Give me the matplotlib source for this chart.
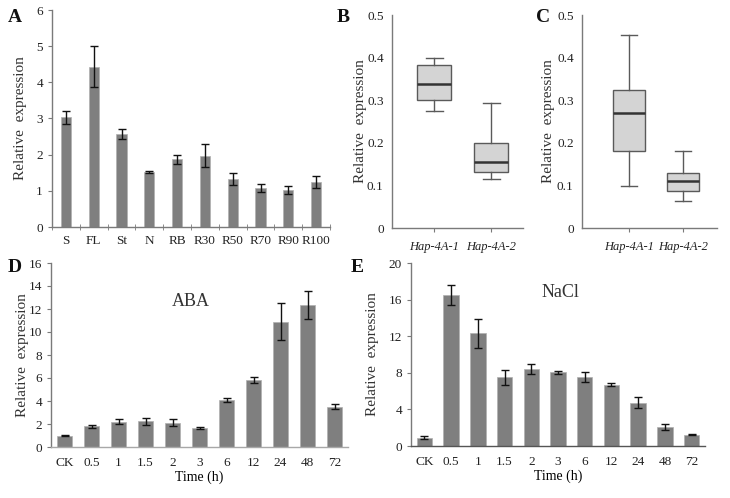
import matplotlib
matplotlib.use("Agg")
import matplotlib.pyplot as plt
from matplotlib.ticker import FuncFormatter

plt.rcParams['font.family'] = ['Liberation Serif', 'DejaVu Serif']

# panel A - tissues
tissues = ["S", "FL", "St", "N", "RB", "R30", "R50", "R70", "R90", "R100"]
tissue_expr = [3.03, 4.43, 2.57, 1.52, 1.87, 1.97, 1.33, 1.08, 1.01, 1.25]
tissue_err = [0.18, 0.57, 0.15, 0.02, 0.13, 0.32, 0.16, 0.11, 0.11, 0.16]

# panels B and C - box stats (whislo, q1, med, q3, whishi)
genes = ["Hap-4A-1", "Hap-4A-2"]
box_b = [[0.275, 0.300, 0.337, 0.382, 0.400],
         [0.115, 0.132, 0.155, 0.200, 0.294]]
box_c = [[0.098, 0.181, 0.270, 0.325, 0.452],
         [0.063, 0.088, 0.110, 0.128, 0.181]]

# panels D and E - time course
times = ["CK", "0.5", "1", "1.5", "2", "3", "6", "12", "24", "48", "72"]
aba_expr = [1.0, 1.8, 2.2, 2.25, 2.1, 1.65, 4.1, 5.8, 10.9, 12.35, 3.5]
aba_err = [0.05, 0.15, 0.2, 0.3, 0.3, 0.05, 0.2, 0.25, 1.6, 1.25, 0.2]
nacl_expr = [0.9, 16.5, 12.3, 7.5, 8.45, 8.05, 7.5, 6.7, 4.75, 2.1, 1.25]
nacl_err = [0.15, 1.1, 1.6, 0.8, 0.55, 0.2, 0.55, 0.15, 0.6, 0.35, 0.1]

W, H = 730, 498
BAR = "#7f7f7f"
SPINE = "#7a7a7a"

fig = plt.figure(figsize=(W / 100, H / 100), dpi=100)


def add_ax(left, right, top, bottom):
    ax = fig.add_axes([left / W, (H - bottom) / H, (right - left) / W, (bottom - top) / H])
    for s in ["top", "right"]:
        ax.spines[s].set_visible(False)
    for s in ["left", "bottom"]:
        ax.spines[s].set_color(SPINE)
        ax.spines[s].set_linewidth(1.0)
    ax.tick_params(colors=SPINE, labelcolor="#222222", labelsize=9.5, length=3)
    return ax


def num_fmt(v, pos):
    if abs(v) < 1e-9:
        return "0"
    return ("%g" % round(v, 3))


def bar_panel(ax, cats, vals, errs, width, ymax, step):
    x = list(range(len(cats)))
    ax.bar(x, vals, width=width, color=BAR, edgecolor="#b0b0b0", linewidth=0.5, zorder=2)
    ax.errorbar(x, vals, yerr=errs, fmt="none", ecolor="#111111", elinewidth=1.0,
                capsize=3, capthick=1.0, zorder=3)
    ax.set_xlim(-0.5, len(cats) - 0.5)
    ax.set_ylim(0, ymax)
    ax.set_yticks(range(0, ymax + 1, step))
    ax.yaxis.set_major_formatter(FuncFormatter(num_fmt))
    ax.set_xticks(x)
    ax.set_xticklabels(cats)
    ax.set_ylabel("Relative  expression", fontsize=11, color="#333333")


# A
axA = add_ax(52, 330, 10, 227)
bar_panel(axA, tissues, tissue_expr, tissue_err, 0.37, 6, 1)
axA.set_xticks([i - 0.5 for i in range(len(tissues) + 1)], minor=True)
axA.tick_params(axis="x", which="major", length=0, pad=6)
axA.tick_params(axis="x", which="minor", length=4, direction="inout", colors=SPINE)
axA.yaxis.set_label_coords(-0.09, 0.5)


def box_panel(ax, stats, xlim):
    data = []
    for g, s in zip(genes, stats):
        data.append({"label": g, "whislo": s[0], "q1": s[1], "med": s[2],
                     "q3": s[3], "whishi": s[4], "fliers": []})
    ax.bxp(data, positions=[1, 2], widths=0.6, patch_artist=True, showfliers=False,
           capwidths=0.3,
           boxprops=dict(facecolor="#d4d4d4", edgecolor="#5a5a5a", linewidth=1.0),
           medianprops=dict(color="#333333", linewidth=1.8),
           whiskerprops=dict(color="#5a5a5a", linewidth=1.0),
           capprops=dict(color="#5a5a5a", linewidth=1.0))
    ax.set_xlim(*xlim)
    ax.set_ylim(0, 0.5)
    ax.set_yticks([0, 0.1, 0.2, 0.3, 0.4, 0.5])
    ax.yaxis.set_major_formatter(FuncFormatter(num_fmt))
    ax.set_xticks([1, 2])
    ax.set_xticklabels(genes, fontstyle="italic", fontsize=9)
    ax.tick_params(axis="y", length=0, pad=6)
    ax.tick_params(axis="x", length=3, pad=6)
    ax.set_ylabel("Relative  expression", fontsize=11, color="#333333")


# B
axB = add_ax(392, 523, 15, 228)
box_panel(axB, box_b, (0.26, 2.56))
axB.yaxis.set_label_coords(-0.19, 0.5)

# C
axC = add_ax(582, 717, 15, 228)
box_panel(axC, box_c, (0.13, 2.63))
axC.yaxis.set_label_coords(-0.2, 0.5)

# D
axD = add_ax(51, 348, 263, 447)
bar_panel(axD, times, aba_expr, aba_err, 0.52, 16, 2)
axD.tick_params(axis="x", length=0, pad=7)
axD.spines["bottom"].set_color("#a8a8a8")
axD.set_xlabel("Time (h)", fontsize=10, labelpad=1)
axD.yaxis.set_label_coords(-0.075, 0.5)
axD.text(0.47, 0.79, "ABA", transform=axD.transAxes, ha="center", va="center",
         fontsize=13, color="#333333")

# E
axE = add_ax(411, 705, 263, 446)
bar_panel(axE, times, nacl_expr, nacl_err, 0.58, 20, 4)
axE.tick_params(axis="x", length=0, pad=7)
axE.spines["bottom"].set_color("#555555")
axE.set_xlabel("Time (h)", fontsize=10, labelpad=1)
axE.yaxis.set_label_coords(-0.11, 0.5)
axE.text(0.507, 0.84, "NaCl", transform=axE.transAxes, ha="center", va="center",
         fontsize=13, color="#333333")

# panel letters
for letter, px, py in [("A", 15, 18), ("B", 343, 18), ("C", 543, 18),
                       ("D", 15, 267), ("E", 357, 267)]:
    fig.text(px / W, 1 - py / H, letter, fontsize=14, fontweight="bold",
             ha="center", va="center", color="#111111")

fig.savefig("out.png", dpi=100)
